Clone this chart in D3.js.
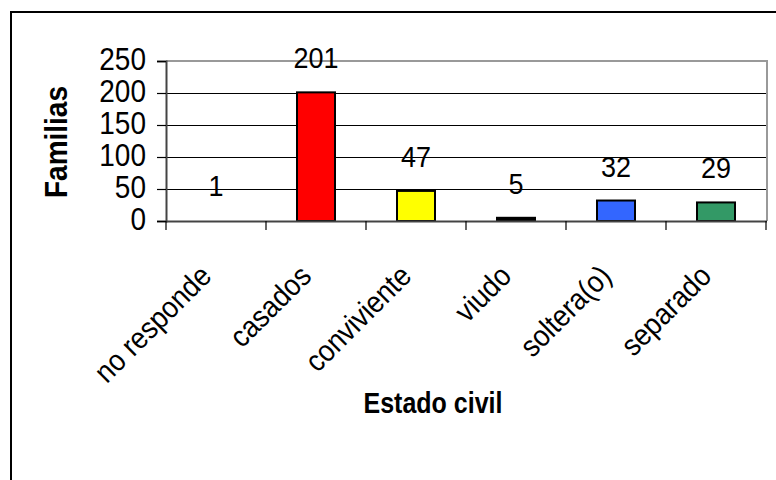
<!DOCTYPE html>
<html>
<head>
<meta charset="utf-8">
<script src="https://cdn.jsdelivr.net/npm/d3@7"></script>
<style>
  html, body { margin: 0; padding: 0; background: #fff; }
  svg { display: block; }
  text { font-family: "Liberation Sans", Arial, sans-serif; fill: #000; }
</style>
</head>
<body>
<svg id="chart" width="776" height="480"></svg>
<script>
// Estado civil de las familias encuestadas
const categories = ["no responde", "casados", "conviviente", "viudo", "soltera(o)", "separado"];
const values = [1, 201, 47, 5, 32, 29];
const barColors = ["#993366", "#FF0000", "#FFFF00", "#000000", "#3366FF", "#339966"];
const yTicks = [0, 50, 100, 150, 200, 250];
const yTitle = "Familias";
const xTitle = "Estado civil";

const svg = d3.select("#chart");
const plot = { left: 166, right: 766, top: 61, bottom: 221 };
const tall = "scale(1,1.12)"; // slightly tall glyphs for all chart text

// outer chart frame (runs off the right and bottom edges)
svg.append("rect")
  .attr("x", 11).attr("y", 12)
  .attr("width", 820).attr("height", 520)
  .attr("fill", "#fff").attr("stroke", "#000").attr("stroke-width", 2);

const x = d3.scaleBand()
  .domain(categories)
  .range([plot.left, plot.right])
  .paddingInner(0.62)
  .paddingOuter(0.31);

const y = d3.scaleLinear().domain([0, 250]).range([plot.bottom, plot.top]);

// horizontal gridlines
svg.append("g")
  .selectAll("line")
  .data(yTicks.filter(t => t > 0 && t < 250))
  .join("line")
  .attr("x1", plot.left).attr("x2", plot.right)
  .attr("y1", d => y(d) + 0.5).attr("y2", d => y(d) + 0.5)
  .attr("stroke", "#000").attr("stroke-width", 1);

// plot area border: top and right in grey
svg.append("path")
  .attr("d", `M${plot.left},${plot.top} H${plot.right + 1} V${plot.bottom}`)
  .attr("fill", "none").attr("stroke", "#999").attr("stroke-width", 2);

// bars (a bar thinner than a pixel is not drawn)
svg.append("g")
  .selectAll("rect")
  .data(categories.map((c, i) => ({ c, v: values[i], col: barColors[i] })))
  .join("rect")
  .attr("x", d => x(d.c))
  .attr("width", x.bandwidth())
  .attr("y", d => y(d.v))
  .attr("height", d => y(0) - y(d.v))
  .attr("fill", d => (y(0) - y(d.v)) < 1 ? "none" : d.col)
  .attr("stroke", d => (y(0) - y(d.v)) < 2 ? "none" : "#000")
  .attr("stroke-width", 2);

// y axis
const yAxis = svg.append("g")
  .attr("transform", `translate(${plot.left},0)`)
  .call(d3.axisLeft(y).tickValues(yTicks).tickSize(9).tickFormat(""));
yAxis.select(".domain").attr("stroke", "#444").attr("stroke-width", 2);
yAxis.selectAll(".tick line").attr("stroke", "#000").attr("stroke-width", 1.2);

svg.append("g")
  .selectAll("text")
  .data(yTicks)
  .join("text")
  .attr("text-anchor", "end")
  .attr("transform", d => `translate(${plot.left - 20},${y(d) + 9}) ${tall}`)
  .style("font-size", "28px")
  .text(d => d);

// x axis: ticks on band boundaries
const xAxisG = svg.append("g");
xAxisG.append("line")
  .attr("x1", plot.left).attr("x2", plot.right + 1)
  .attr("y1", plot.bottom + 0.5).attr("y2", plot.bottom + 0.5)
  .attr("stroke", "#444").attr("stroke-width", 2);
const boundaries = categories.map(c => x(c) - (x.step() - x.bandwidth()) / 2);
boundaries.push(plot.right);
xAxisG.selectAll("line.tick")
  .data(boundaries)
  .join("line")
  .attr("class", "tick")
  .attr("x1", d => d).attr("x2", d => d)
  .attr("y1", plot.bottom).attr("y2", plot.bottom + 9)
  .attr("stroke", "#000").attr("stroke-width", 1.2);

// rotated category labels
xAxisG.selectAll("text.cat")
  .data(categories)
  .join("text")
  .attr("class", "cat")
  .attr("text-anchor", "end")
  .attr("transform", d => `translate(${x(d) + x.bandwidth() / 2 - 3},${plot.bottom + 57}) rotate(-45) ${tall}`)
  .style("font-size", "27px")
  .text(d => d);

// value labels
svg.append("g")
  .selectAll("text")
  .data(categories.map((c, i) => ({ c, v: values[i] })))
  .join("text")
  .attr("text-anchor", "middle")
  .attr("transform", d => `translate(${x(d.c) + x.bandwidth() / 2},${y(d.v) - 24}) ${tall}`)
  .style("font-size", "27px")
  .text(d => d.v);

// axis titles
svg.append("text")
  .attr("transform", `translate(67,142) rotate(-90) ${tall}`)
  .attr("text-anchor", "middle")
  .style("font-size", "28px").style("font-weight", "bold")
  .text(yTitle);

svg.append("text")
  .attr("transform", `translate(433,413) scale(1,1.15)`)
  .attr("text-anchor", "middle")
  .style("font-size", "25px").style("font-weight", "bold")
  .text(xTitle);
</script>
</body>
</html>
